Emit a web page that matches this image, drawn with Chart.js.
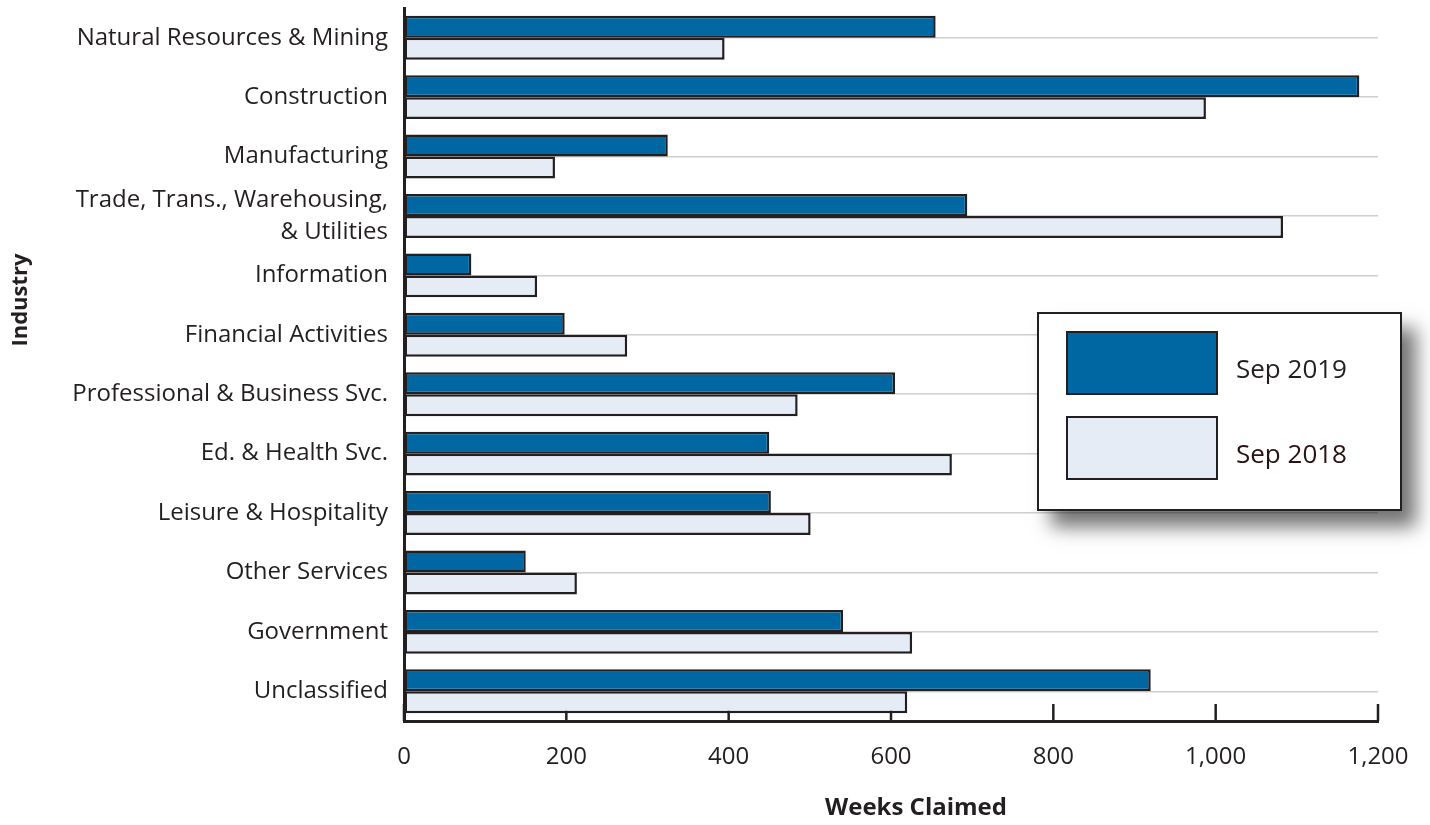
<!DOCTYPE html>
<html>
<head>
<meta charset="utf-8">
<script src="https://cdn.jsdelivr.net/npm/chart.js@4.4.1/dist/chart.umd.min.js"></script>
<style>
  html, body { margin: 0; padding: 0; background: #fff; }
  #wrap { position: relative; width: 1430px; height: 825px; }
  #legendBox {
    position: absolute; left: 1037px; top: 312px; width: 361px; height: 195px;
    background: #fff; border: 2px solid #231f20;
    box-shadow: 14px 16px 18px rgba(0,0,0,0.55);
    font-family: "Open Sans", sans-serif; font-size: 26px; color: #231f20;
  }
  .item { position: absolute; left: 27px; height: 64px; }
  .sw { position: absolute; left: 0; top: 0; width: 152px; height: 64px; border: 2px solid #231f20; box-sizing: border-box; }
  .lab { position: absolute; left: 170px; top: 19px; white-space: nowrap; }
</style>
</head>
<body>
<div id="wrap">
  <canvas id="weeksChart" width="1430" height="825"></canvas>
  <div id="legendBox"></div>
</div>
<script>
var industries = [
    "Natural Resources & Mining",
    "Construction",
    "Manufacturing",
    ["Trade, Trans., Warehousing,", "& Utilities"],
    "Information",
    "Financial Activities",
    "Professional & Business Svc.",
    "Ed. & Health Svc.",
    "Leisure & Hospitality",
    "Other Services",
    "Government",
    "Unclassified"
];
var sep2019 = [655, 1177, 325, 694, 83, 198, 605, 450, 452, 150, 541, 920];
var sep2018 = [395, 988, 186, 1083, 164, 275, 485, 675, 501, 213, 626, 620];
var seriesNames = ["Sep 2019", "Sep 2018"];
var seriesColors = ["#0067a3", "#e5ecf6"];
var labelColors = ["#231f20", "#2a1214"];
var xTitle = "Weeks Claimed";
var yTitle = "Industry";

// x-axis tick marks point up into the plot, behind the bars
var innerTicks = {
    id: 'innerTicks',
    beforeDatasetsDraw: function(chart) {
        var ctx = chart.ctx;
        var x = chart.scales.x;
        var bottom = chart.chartArea.bottom;
        ctx.save();
        ctx.strokeStyle = "#231f20";
        ctx.lineWidth = 2.5;
        x.ticks.forEach(function(t) {
            var px = x.getPixelForValue(t.value);
            ctx.beginPath();
            ctx.moveTo(px, bottom);
            ctx.lineTo(px, bottom - 17);
            ctx.stroke();
        });
        ctx.restore();
    }
};

// axis titles sit a bit off-centre in the original
var axisTitles = {
    id: 'axisTitles',
    afterDraw: function(chart) {
        var ctx = chart.ctx;
        var area = chart.chartArea;
        ctx.save();
        ctx.fillStyle = "#231f20";
        ctx.textAlign = "center";
        ctx.textBaseline = "middle";
        ctx.font = "bold 24px 'Open Sans'";
        ctx.fillText(xTitle, (area.left + area.right) / 2 + 25, 808);
        ctx.translate(21, 300);
        ctx.rotate(-Math.PI / 2);
        ctx.font = "bold 22px 'Open Sans'";
        ctx.fillText(yTitle, 0, 0);
        ctx.restore();
    }
};

var options = {
    type: 'bar',
    data: {
        labels: industries,
        datasets: [{
            label: seriesNames[0],
            data: sep2019,
            backgroundColor: seriesColors[0],
            borderColor: "#231f20",
            borderWidth: 2.5,
            borderSkipped: false
        }, {
            label: seriesNames[1],
            data: sep2018,
            backgroundColor: seriesColors[1],
            borderColor: "#231f20",
            borderWidth: 2.5,
            borderSkipped: false
        }]
    },
    options: {
        indexAxis: 'y',
        responsive: false,
        animation: false,
        layout: { padding: { top: 8, right: 52, left: 0, bottom: 0 } },
        datasets: { bar: { categoryPercentage: 0.74, barPercentage: 1.0 } },
        plugins: { legend: { display: false }, tooltip: { enabled: false } },
        scales: {
            x: {
                min: 0, max: 1200,
                ticks: {
                    stepSize: 200,
                    padding: 22,
                    color: "#231f20",
                    font: { family: "Open Sans", size: 24 },
                    callback: function(v) { return v.toLocaleString('en-US'); }
                },
                grid: { drawOnChartArea: false, drawTicks: false },
                border: { color: "#231f20", width: 3 },
                afterFit: function(s) { s.height = 104; s.paddingLeft = 0; s.paddingRight = 0; }
            },
            y: {
                ticks: {
                    autoSkip: false,
                    padding: 16,
                    color: "#231f20",
                    font: { family: "Open Sans", size: 24, lineHeight: 1.33 }
                },
                grid: { offset: false, drawTicks: false, color: "#cfcfcf", lineWidth: 1.5 },
                border: { color: "#231f20", width: 3 },
                afterFit: function(s) { s.width = 404; s.paddingTop = 0; s.paddingBottom = 0; }
            }
        }
    },
    plugins: [innerTicks, axisTitles]
};

var weeksChart = new Chart(document.getElementById("weeksChart"), options);

// legend box
var box = document.getElementById("legendBox");
var tops = [17, 102];
for (var i = 0; i < seriesNames.length; i++) {
    var item = document.createElement("div");
    item.className = "item";
    item.style.top = tops[i] + "px";
    var sw = document.createElement("div");
    sw.className = "sw";
    sw.style.background = seriesColors[i];
    var lab = document.createElement("div");
    lab.className = "lab";
    lab.style.color = labelColors[i];
    lab.textContent = seriesNames[i];
    item.appendChild(sw);
    item.appendChild(lab);
    box.appendChild(item);
}
</script>
</body>
</html>
